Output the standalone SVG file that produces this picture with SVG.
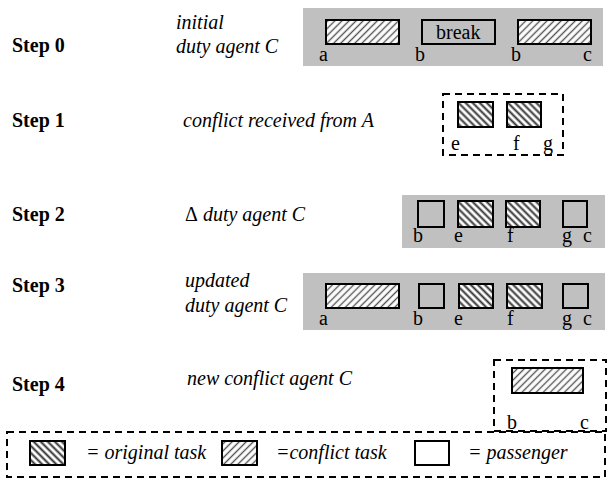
<svg xmlns="http://www.w3.org/2000/svg" width="608" height="480" viewBox="0 0 608 480">
  <defs>
    <!-- original task: dense back-slash hatching -->
    <pattern id="hatchOrig" patternUnits="userSpaceOnUse" width="5" height="5" patternTransform="rotate(-45)">
      <rect width="5" height="5" fill="#fff"/>
      <line x1="1.5" y1="0" x2="1.5" y2="5" stroke="#333" stroke-width="2"/>
    </pattern>
    <!-- conflict task: lighter forward-slash hatching -->
    <pattern id="hatchConf" patternUnits="userSpaceOnUse" width="5" height="5" patternTransform="rotate(45)">
      <rect width="5" height="5" fill="#fff"/>
      <line x1="1.5" y1="0" x2="1.5" y2="5" stroke="#555" stroke-width="1.4"/>
    </pattern>
  </defs>
  <style>
    text { font-size: 20px; fill: #000; }
    .step { font-weight: bold; }
    .desc { font-style: italic; }
    .band { fill: #c0c0c0; }
    .orig { fill: url(#hatchOrig); stroke: #000; stroke-width: 2; }
    .conf { fill: url(#hatchConf); stroke: #000; stroke-width: 2; }
    .pass { fill: none; stroke: #000; stroke-width: 2; }
    .frame { fill: none; stroke: #000; stroke-width: 2; stroke-dasharray: 7 5; }
  </style>

  <!-- Step 0: initial duty -->
  <g id="step0" font-family="Liberation Serif">
    <text class="step" x="12" y="52">Step 0</text>
    <text class="desc" x="176" y="29">initial</text>
    <text class="desc" x="176" y="53">duty agent C</text>
    <rect class="band" x="303" y="8" width="300" height="58"/>
    <rect class="conf" x="326" y="20" width="73" height="24"/>
    <rect class="pass" x="422" y="20" width="73" height="24"/>
    <text class="lbl" x="436" y="39">break</text>
    <rect class="conf" x="518" y="20" width="73" height="24"/>
    <text class="lbl" x="319" y="61">a</text>
    <text class="lbl" x="415" y="61">b</text>
    <text class="lbl" x="511" y="61">b</text>
    <text class="lbl" x="583" y="61">c</text>
  </g>

  <!-- Step 1: received conflict -->
  <g id="step1" font-family="Liberation Serif">
    <text class="step" x="12" y="127">Step 1</text>
    <text class="desc" x="183" y="127">conflict received from A</text>
    <rect class="frame" x="443" y="94" width="120" height="61"/>
    <rect class="orig" x="458" y="102" width="35" height="25"/>
    <rect class="orig" x="507" y="102" width="34" height="25"/>
    <text class="lbl" x="451" y="150">e</text>
    <text class="lbl" x="513" y="150">f</text>
    <text class="lbl" x="543" y="150">g</text>
  </g>

  <!-- Step 2: delta duty -->
  <g id="step2" font-family="Liberation Serif">
    <text class="step" x="12" y="221">Step 2</text>
    <text class="desc" x="185" y="221"><tspan font-style="normal">Δ</tspan> duty agent C</text>
    <rect class="band" x="402" y="195" width="203" height="53"/>
    <rect class="pass" x="418" y="201" width="26" height="26"/>
    <rect class="orig" x="458" y="201" width="35" height="26"/>
    <rect class="orig" x="506" y="201" width="34" height="26"/>
    <rect class="pass" x="563" y="201" width="24" height="26"/>
    <text class="lbl" x="413" y="242">b</text>
    <text class="lbl" x="454" y="242">e</text>
    <text class="lbl" x="507" y="242">f</text>
    <text class="lbl" x="562" y="242">g</text>
    <text class="lbl" x="583" y="242">c</text>
  </g>

  <!-- Step 3: updated duty -->
  <g id="step3" font-family="Liberation Serif">
    <text class="step" x="12" y="292">Step 3</text>
    <text class="desc" x="185" y="287">updated</text>
    <text class="desc" x="185" y="312">duty agent C</text>
    <rect class="band" x="303" y="273" width="302" height="57"/>
    <rect class="conf" x="326" y="284" width="73" height="24"/>
    <rect class="pass" x="419" y="284" width="25" height="24"/>
    <rect class="orig" x="459" y="284" width="34" height="24"/>
    <rect class="orig" x="507" y="284" width="35" height="24"/>
    <rect class="pass" x="563" y="284" width="25" height="24"/>
    <text class="lbl" x="319" y="325">a</text>
    <text class="lbl" x="413" y="325">b</text>
    <text class="lbl" x="454" y="325">e</text>
    <text class="lbl" x="507" y="325">f</text>
    <text class="lbl" x="562" y="325">g</text>
    <text class="lbl" x="583" y="325">c</text>
  </g>

  <!-- Step 4: new conflict -->
  <g id="step4" font-family="Liberation Serif">
    <text class="step" x="12" y="391">Step 4</text>
    <text class="desc" x="187" y="385">new conflict agent C</text>
    <rect class="frame" x="494" y="360" width="112" height="71"/>
    <rect class="conf" x="512" y="368" width="71" height="25"/>
    <text class="lbl" x="507" y="429">b</text>
    <text class="lbl" x="580" y="429">c</text>
  </g>

  <!-- Legend -->
  <g id="legend" font-family="Liberation Serif">
    <rect class="frame" x="7" y="432" width="598" height="45"/>
    <rect class="orig" x="30" y="441" width="35" height="24"/>
    <text class="desc" x="86" y="459">= original task</text>
    <rect class="conf" x="222" y="441" width="35" height="24"/>
    <text class="desc" x="276" y="459">=conflict task</text>
    <rect class="pass" x="415" y="441" width="34" height="24"/>
    <text class="desc" x="468" y="459">= passenger</text>
  </g>
</svg>
